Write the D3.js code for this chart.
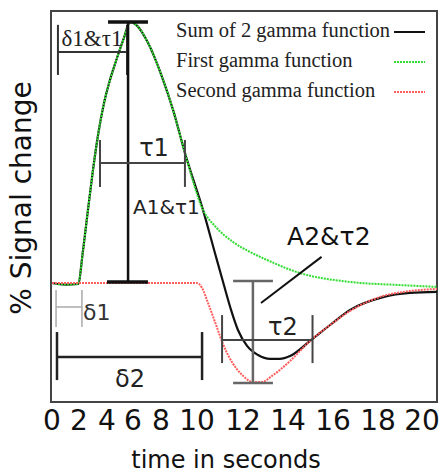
<!DOCTYPE html>
<html>
<head>
<meta charset="utf-8">
<script src="https://cdn.jsdelivr.net/npm/d3@7"></script>
<style>
  html, body { margin: 0; padding: 0; background: #fff; }
  svg { display: block; }
</style>
</head>
<body>
<svg id="chart" width="442" height="475"></svg>
<script>
// ---- data -------------------------------------------------------------
const timeTicks = [0, 2, 4, 6, 8, 10, 12, 14, 16, 18, 20];

// [time (s), signal] — sum of the two gamma functions
const sumCurve = [
  [0, 0], [1.0, -0.006], [1.93, -0.004], [2.29, 0.126], [2.64, 0.28], [3.0, 0.433],
  [3.36, 0.567], [3.79, 0.69], [4.23, 0.778], [4.77, 0.862], [5.31, 0.94], [5.77, 1.0],
  [6.3, 0.985], [7.07, 0.92], [8.06, 0.789], [8.67, 0.663], [9.33, 0.498], [10.26, 0.28],
  [10.78, 0.115], [11.17, -0.008], [11.48, -0.103], [11.78, -0.18], [12.18, -0.241],
  [12.67, -0.276], [13.2, -0.291], [13.64, -0.291], [14.09, -0.28], [14.98, -0.222],
  [15.87, -0.161], [16.76, -0.103], [18.23, -0.054], [19.45, -0.038], [20.68, -0.034]
];

// first (positive) gamma function
const firstGamma = [
  [0, 0], [1.0, -0.006], [1.93, -0.004], [2.29, 0.126], [2.64, 0.28], [3.0, 0.433],
  [3.36, 0.567], [3.79, 0.69], [4.23, 0.778], [4.77, 0.862], [5.31, 0.94], [5.77, 1.0],
  [6.3, 0.985], [7.07, 0.92], [8.06, 0.789], [8.67, 0.663], [9.33, 0.498], [10.26, 0.28],
  [10.78, 0.218], [11.57, 0.157], [12.31, 0.119], [13.07, 0.088], [14.53, 0.038],
  [16.76, 0.004], [19.0, -0.008], [20.68, -0.015]
];

// second (undershoot) gamma function
const secondGamma = [
  [0, 0], [10, 0], [10.22, -0.019], [10.48, -0.077], [10.83, -0.161], [11.13, -0.234],
  [11.52, -0.303], [11.96, -0.352], [12.44, -0.379], [12.84, -0.379], [13.29, -0.356],
  [14.09, -0.299], [14.98, -0.222], [15.87, -0.161], [16.76, -0.107], [18.23, -0.05],
  [19.45, -0.031], [20.68, -0.023]
];

const legendLabels = ["Sum of 2 gamma function", "First gamma function", "Second gamma function"];

// ---- layout ------------------------------------------------------------
const svg = d3.select("#chart");
const frame = { left: 51, top: 11, right: 437, bottom: 402 };
// tick label centres along the time axis (labels are set in a wide font,
// so the two-digit labels take more room than the one-digit ones)
const tickPx = [52, 79, 107, 133, 161, 197, 243, 288, 333, 378, 422];

const x = d3.scaleLinear().domain(timeTicks).range(tickPx);
const y = d3.scaleLinear().domain([-0.456, 1.042]).range([frame.bottom, frame.top]);

const sansFont = "DejaVu Sans, sans-serif";
const serifFont = "Liberation Serif, Times New Roman, serif";

// plot frame
svg.append("rect")
  .attr("x", frame.left).attr("y", frame.top)
  .attr("width", frame.right - frame.left).attr("height", frame.bottom - frame.top)
  .attr("fill", "none").attr("stroke", "#444").attr("stroke-width", 2);

// ---- curves ------------------------------------------------------------
const line = d3.line().x(d => x(d[0])).y(d => y(d[1])).curve(d3.curveMonotoneX);

svg.append("path").datum(sumCurve).attr("d", line)
  .attr("fill", "none").attr("stroke", "#111").attr("stroke-width", 2.2);
svg.append("path").datum(firstGamma).attr("d", line)
  .attr("fill", "none").attr("stroke", "#33dd33").attr("stroke-width", 2)
  .attr("stroke-dasharray", "2,1");
svg.append("path").datum(secondGamma).attr("d", line)
  .attr("fill", "none").attr("stroke", "#ff5c5c").attr("stroke-width", 2)
  .attr("stroke-dasharray", "2,1");

// ---- annotations (in time / signal units) -------------------------------
function seg(t1, v1, t2, v2, color, w) {
  svg.append("line")
    .attr("x1", x(t1)).attr("y1", y(v1)).attr("x2", x(t2)).attr("y2", y(v2))
    .attr("stroke", color).attr("stroke-width", w);
}
// horizontal bracket with end ticks
function hBracket(t1, t2, v, vTop, vBot, color, w) {
  seg(t1, v, t2, v, color, w);
  seg(t1, vTop, t1, vBot, color, w);
  seg(t2, vTop, t2, vBot, color, w);
}
function label(text, t, v, size, anchor, family, color) {
  svg.append("text").attr("x", x(t)).attr("y", y(v))
    .attr("font-family", family).attr("font-size", size)
    .attr("text-anchor", anchor).attr("fill", color || "#111").text(text);
}

// δ1&τ1
hBracket(0.44, 5.54, 0.885, 0.989, 0.797, "#333", 2);
label("δ1&τ1", 0.7, 0.908, 23, "start", serifFont, "#222");

// A1 amplitude marker
seg(5.62, 1.0, 5.62, 0.004, "#111", 2.5);
seg(4.08, 1.0, 7.07, 1.0, "#111", 3.5);
seg(4.0, 0.004, 7.07, 0.004, "#111", 3.5);

// τ1
hBracket(3.5, 9.33, 0.46, 0.548, 0.368, "#444", 2);
label("τ1", 7.5, 0.487, 24, "middle", sansFont, "#222");
label("A1&τ1", 6.0, 0.264, 20, "start", sansFont, "#222");

// δ1
hBracket(0.3, 2.21, -0.092, -0.027, -0.169, "#aaa", 1.5);
label("δ1", 2.29, -0.142, 22, "start", sansFont, "#333");

// δ2
hBracket(0.37, 10.22, -0.284, -0.188, -0.372, "#222", 2.5);
label("δ2", 5.77, -0.4, 24, "middle", sansFont, "#222");

// A2 amplitude marker
seg(12.44, 0.008, 12.44, -0.383, "#666", 2.5);
seg(11.57, 0.008, 13.33, 0.008, "#666", 2.5);
seg(11.57, -0.383, 13.33, -0.383, "#666", 2.5);

// τ2
hBracket(11.09, 15.09, -0.218, -0.123, -0.307, "#444", 2);
label("τ2", 13.11, -0.2, 24, "start", sansFont, "#222");

// A2&τ2 with leader line
label("A2&τ2", 13.96, 0.146, 25, "start", sansFont, "#111");
seg(15.49, 0.1, 12.8, -0.077, "#111", 2);

// ---- legend ------------------------------------------------------------
const legendColors = ["#111", "#33dd33", "#ff5c5c"];
const legendDash = [null, "2,1", "2,1"];
const legendRowY = [37, 67, 97];
legendLabels.forEach((txt, i) => {
  svg.append("text").attr("x", 176).attr("y", legendRowY[i])
    .attr("font-family", serifFont).attr("font-size", 20.5).attr("fill", "#222")
    .text(txt);
  svg.append("line")
    .attr("x1", 394).attr("x2", 425)
    .attr("y1", legendRowY[i] - 5).attr("y2", legendRowY[i] - 5)
    .attr("stroke", legendColors[i]).attr("stroke-width", 2)
    .attr("stroke-dasharray", legendDash[i]);
});

// ---- axes text -------------------------------------------------------------
svg.append("g").selectAll("text").data(timeTicks).join("text")
  .attr("x", d => x(d)).attr("y", 430)
  .attr("text-anchor", "middle")
  .attr("font-family", sansFont).attr("font-size", 28).attr("fill", "#111")
  .text(d => d);

svg.append("text").attr("x", 226).attr("y", 468)
  .attr("text-anchor", "middle")
  .attr("font-family", sansFont).attr("font-size", 24).attr("fill", "#111")
  .text("time in seconds");

svg.append("text")
  .attr("transform", "translate(31,198) rotate(-90)")
  .attr("text-anchor", "middle")
  .attr("font-family", sansFont).attr("font-size", 28).attr("fill", "#111")
  .text("% Signal change");
</script>
</body>
</html>
